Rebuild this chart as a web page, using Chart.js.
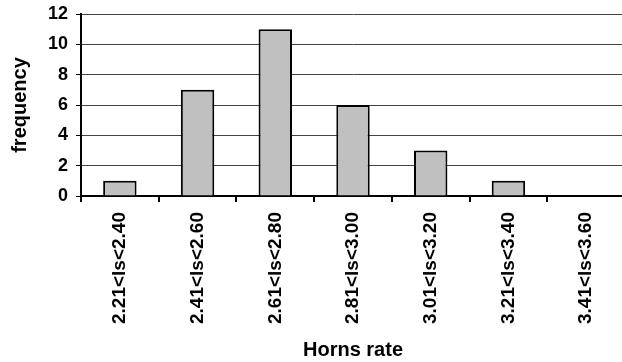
<!DOCTYPE html>
<html>
<head>
<meta charset="utf-8">
<script src="https://cdn.jsdelivr.net/npm/chart.js@4"></script>
<style>
  html, body { margin: 0; padding: 0; background: #fff; overflow: hidden; }
  #wrap { width: 632px; height: 362px; }
</style>
</head>
<body>
<div id="wrap"><canvas id="myChart"></canvas></div>
<script>
// data
const categories = ['2.21<ls<2.40', '2.41<ls<2.60', '2.61<ls<2.80', '2.81<ls<3.00',
                    '3.01<ls<3.20', '3.21<ls<3.40', '3.41<ls<3.60'];
const frequency = [1, 7, 11, 6, 3, 1, 0];
const yTicks = [0, 2, 4, 6, 8, 10, 12];

Chart.defaults.font.family = '"Liberation Sans", Arial, sans-serif';
Chart.defaults.font.weight = 'bold';
Chart.defaults.color = '#000';

const data = {
  labels: categories,
  datasets: [{
    label: 'frequency',
    data: frequency,
    backgroundColor: '#c0c0c0',
    borderColor: '#000',
    borderWidth: 2,
    barPercentage: 0.43,
    categoryPercentage: 1
  }]
};

const config = {
  type: 'bar',
  data,
  options: {
    responsive: true,
    maintainAspectRatio: false,
    animation: false,
    layout: { padding: { top: 14, right: 7, left: 0, bottom: 0 } },
    plugins: { legend: { display: false }, tooltip: { enabled: false } },
    scales: {
      x: {
        grid: { drawOnChartArea: false, drawTicks: true, tickLength: 6, color: '#000', lineWidth: 2 },
        border: { color: '#000', width: 2 },
        ticks: { minRotation: 90, maxRotation: 90, autoSkip: false, padding: 10, font: { size: 19, weight: 'bold' } },
        title: { display: true, text: 'Horns rate', font: { size: 20, weight: 'bold' }, padding: { top: 2, bottom: 0 } },
        afterFit: function(scale) { scale.height = 166; }
      },
      y: {
        min: 0,
        max: 12,
        afterBuildTicks: function(scale) { scale.ticks = yTicks.map(v => ({ value: v })); },
        grid: { color: '#444', lineWidth: 1, tickLength: 5, tickColor: '#000' },
        border: { color: '#000', width: 2 },
        ticks: { padding: 8, font: { size: 18, weight: 'bold', lineHeight: 1 } },
        title: { display: true, text: 'frequency', font: { size: 20, weight: 'bold' }, padding: { top: 8, bottom: 4 } },
        afterFit: function(scale) { scale.width = 81; scale.paddingTop = 0; }
      }
    }
  }
};

const myChart = new Chart(document.getElementById('myChart'), config);
</script>
</body>
</html>
